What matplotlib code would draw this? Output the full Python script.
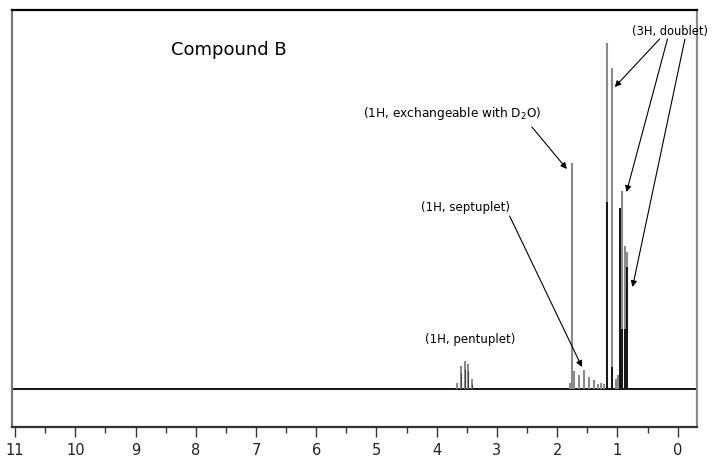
import matplotlib.pyplot as plt

# peak positions (ppm) and heights (arbitrary intensity units)
pent_ppm = [3.66, 3.60, 3.53, 3.48, 3.42]
pent_h = [6, 23, 28, 25, 10]

oh_ppm = [1.76]
oh_h = [226]

sept_ppm = [1.79, 1.72, 1.64, 1.56, 1.48, 1.39]
sept_h = [6, 18, 14, 19, 12, 9]

dbl1_ppm = [1.18, 1.09]
dbl1_h = [346, 321]
dbl1_dark = [187, 22]

dbl2_ppm = [0.96, 0.93, 0.87, 0.84]
dbl2_h = [181, 198, 143, 137]
dbl2_dark = [181, 60, 60, 122]

hump_ppm = [1.32, 1.27, 1.22, 1.02, 0.99]
hump_h = [5, 6, 5, 10, 14]

baseline_y = 0

fig = plt.figure(figsize=(7.12, 4.60), dpi=100)
ax = fig.add_axes([12 / 712, 32 / 460, 685 / 712, 417 / 460])

ax.set_xlim(11.05, -0.32)
ax.set_ylim(-38, 379)

# baseline
ax.plot([11.05, -0.32], [baseline_y, baseline_y], color="black", lw=1.3)

# peaks: gray sticks with darker cores
grey = "#8a8a8a"
for ppm, h in [(pent_ppm, pent_h), (oh_ppm, oh_h), (sept_ppm, sept_h),
               (dbl1_ppm, dbl1_h), (dbl2_ppm, dbl2_h), (hump_ppm, hump_h)]:
    ax.vlines(ppm, baseline_y, h, color=grey, lw=1.5)
ax.vlines(pent_ppm, baseline_y, [0, 16, 20, 18, 5], color="#444444", lw=0.8)
ax.vlines(dbl1_ppm, baseline_y, dbl1_dark, color="black", lw=1.2)
ax.vlines(dbl2_ppm, baseline_y, dbl2_dark, color="black", lw=1.2)

# frame
for side, c in [("left", "#777777"), ("right", "#8a8a8a"),
                ("top", "black"), ("bottom", "#333333")]:
    ax.spines[side].set_color(c)
    ax.spines[side].set_linewidth(1.6)

ax.set_yticks([])
ax.set_xticks(range(0, 12))
ax.set_xticks([x + 0.5 for x in range(0, 11)], minor=True)
ax.tick_params(axis="x", which="major", direction="out", length=7, width=1,
               labelsize=10.5, pad=4, color="#333333", labelcolor="#222222")
ax.tick_params(axis="x", which="minor", direction="out", length=4, width=1,
               color="#333333")

# labels
ax.text(7.45, 340, "Compound B", fontsize=13, ha="center", va="center")
ax.text(3.45, 50, "(1H, pentuplet)", fontsize=8.5, ha="center", va="center")

arrow = dict(arrowstyle="-|>", color="black", lw=0.8, mutation_scale=9,
             shrinkA=0, shrinkB=0)

ax.text(3.74, 277, "(1H, exchangeable with D$_2$O)", fontsize=8.7,
        ha="center", va="center")
ax.annotate("", xy=(1.84, 220), xytext=(2.42, 262), arrowprops=arrow)

ax.text(3.53, 182, "(1H, septuplet)", fontsize=8.5, ha="center", va="center")
ax.annotate("", xy=(1.59, 22), xytext=(2.79, 173), arrowprops=arrow)

ax.text(0.13, 358, "(3H, doublet)", fontsize=8.3, ha="center", va="center")
ax.annotate("", xy=(1.045, 302), xytext=(0.30, 350), arrowprops=arrow)
ax.annotate("", xy=(0.85, 197), xytext=(0.17, 350), arrowprops=arrow)
ax.annotate("", xy=(0.75, 102), xytext=(-0.12, 350), arrowprops=arrow)

fig.savefig("out.png", dpi=100)
